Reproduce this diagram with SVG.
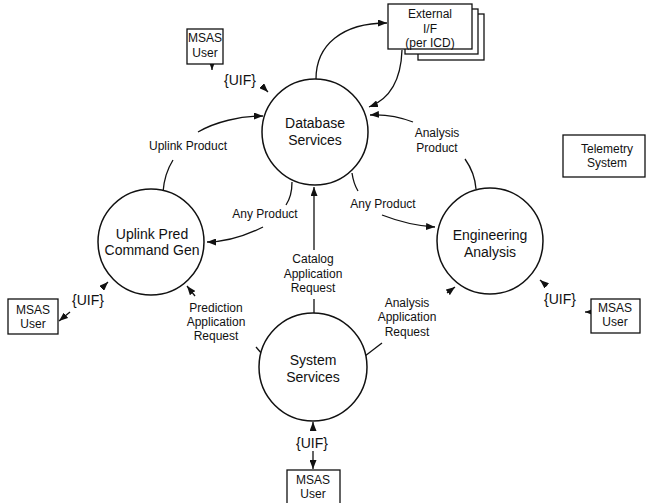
<svg xmlns="http://www.w3.org/2000/svg" width="647" height="503" viewBox="0 0 647 503">
  <style>
    .bg { fill: #ffffff; }
    .proc { fill: #ffffff; stroke: #111; stroke-width: 1.5; }
    .box { fill: #ffffff; stroke: #111; stroke-width: 1.3; }
    .flow { fill: none; stroke: #111; stroke-width: 1.3; }
    .arrow { marker-end: url(#head); }
    text { font-family: "Liberation Sans", Arial, sans-serif; fill: #111; text-anchor: middle; }
    .name { font-size: 14px; }
    .lbl { font-size: 12px; }
    .uif { font-size: 14px; }
  </style>
  <defs>
    <marker id="head" viewBox="0 0 9 7" refX="9" refY="3.5" markerWidth="9" markerHeight="7" markerUnits="userSpaceOnUse" orient="auto">
      <path d="M0,0 L9,3.5 L0,7 z" fill="#111"/>
    </marker>
  </defs>
  <rect class="bg" x="0" y="0" width="647" height="503"/>

  <!-- data flows -->
  <g id="connectors">
    <!-- Database <-> External I/F -->
    <path class="flow arrow" d="M316,79 C316,45 342,23 387,23"/>
    <path class="flow arrow" d="M402,50 C401,80 390,99 369,107"/>
    <!-- Analysis Product -->
    <path class="flow" d="M476,189 C475,176 470,166 465,159"/>
    <path class="flow arrow" d="M413,122 C400,117 386,114 370,115"/>
    <!-- Any Product (to Engineering Analysis) -->
    <path class="flow" d="M352,173 C353,180 355,186 358,191"/>
    <path class="flow arrow" d="M382,215 C400,222 418,226 435,227"/>
    <!-- Any Product (to Uplink Pred) -->
    <path class="flow" d="M292,182 C292,192 290,199 286,205"/>
    <path class="flow arrow" d="M263,227 C245,236 226,242 207,242"/>
    <!-- Uplink Product -->
    <path class="flow" d="M163,192 C164,178 168,168 173,160"/>
    <path class="flow arrow" d="M198,132 C215,122 240,116 263,116"/>
    <!-- Catalog Application Request -->
    <path class="flow" d="M314,313 L314,299"/>
    <path class="flow arrow" d="M314,250 L314,187"/>
    <!-- Prediction Application Request -->
    <path class="flow arrow" d="M195,296 L187,286"/>
    <path class="flow" d="M256,347 L262,354"/>
    <!-- Analysis Application Request -->
    <path class="flow arrow" d="M447,293 L455,287"/>
    <path class="flow" d="M382,343 L365,356"/>
    <!-- UIF: System Services -->
    <path class="flow arrow" d="M313,430 L313,422"/>
    <path class="flow arrow" d="M313,451 L313,469"/>
    <!-- UIF: Uplink Pred -->
    <path class="flow arrow" d="M102,288 L108,282"/>
    <path class="flow arrow" d="M70,312 L59,321"/>
    <!-- UIF: Engineering Analysis -->
    <path class="flow arrow" d="M547,286 L540,280"/>
    <path class="flow arrow" d="M591,312 L585,312"/>
    <!-- UIF: Database Services -->
    <path class="flow arrow" d="M212,63 L212,70"/>
    <path class="flow arrow" d="M262,86 L268,92"/>
  </g>

  <g id="database-services">
    <circle class="proc" cx="315" cy="132" r="53"/>
    <text class="name" x="315" y="128">Database</text>
    <text class="name" x="315" y="145">Services</text>
  </g>

  <g id="uplink-pred">
    <circle class="proc" cx="151" cy="242" r="53"/>
    <text class="name" x="152" y="239">Uplink Pred</text>
    <text class="name" x="152" y="255">Command Gen</text>
  </g>

  <g id="engineering-analysis">
    <circle class="proc" cx="490" cy="241" r="53"/>
    <text class="name" x="490" y="240">Engineering</text>
    <text class="name" x="490" y="257">Analysis</text>
  </g>

  <g id="system-services">
    <circle class="proc" cx="313" cy="367" r="54"/>
    <text class="name" x="313" y="365">System</text>
    <text class="name" x="313" y="382">Services</text>
  </g>

  <g id="external-if">
    <rect class="box" x="418" y="14" width="66" height="46"/>
    <rect class="box" x="405" y="9" width="73" height="45"/>
    <rect class="box" x="388" y="4" width="84" height="45"/>
    <text class="lbl" x="430" y="18">External</text>
    <text class="lbl" x="430" y="33">I/F</text>
    <text class="lbl" x="430" y="47">(per ICD)</text>
  </g>

  <g id="telemetry-system">
    <rect class="box" x="563" y="135" width="82" height="42"/>
    <text class="lbl" x="607" y="153">Telemetry</text>
    <text class="lbl" x="607" y="167">System</text>
  </g>

  <g id="msas-user-top">
    <rect class="box" x="187" y="29" width="36" height="35"/>
    <text class="lbl" x="205" y="42">MSAS</text>
    <text class="lbl" x="205" y="57">User</text>
  </g>

  <g id="msas-user-left">
    <rect class="box" x="8" y="299" width="50" height="35"/>
    <text class="lbl" x="33" y="314">MSAS</text>
    <text class="lbl" x="33" y="328">User</text>
  </g>

  <g id="msas-user-right">
    <rect class="box" x="591" y="299" width="49" height="34"/>
    <text class="lbl" x="615" y="312">MSAS</text>
    <text class="lbl" x="615" y="326">User</text>
  </g>

  <g id="msas-user-bottom">
    <rect class="box" x="287" y="470" width="53" height="40"/>
    <text class="lbl" x="313" y="484">MSAS</text>
    <text class="lbl" x="313" y="498">User</text>
  </g>

  <!-- flow labels -->
  <g id="labels">
    <text class="lbl" x="188" y="150">Uplink Product</text>
    <text class="lbl" x="265" y="218">Any Product</text>
    <text class="lbl" x="383" y="208">Any Product</text>
    <text class="lbl" x="437" y="137">Analysis</text>
    <text class="lbl" x="437" y="152">Product</text>
    <text class="lbl" x="313" y="263">Catalog</text>
    <text class="lbl" x="313" y="278">Application</text>
    <text class="lbl" x="313" y="292">Request</text>
    <text class="lbl" x="216" y="312">Prediction</text>
    <text class="lbl" x="216" y="326">Application</text>
    <text class="lbl" x="216" y="340">Request</text>
    <text class="lbl" x="407" y="307">Analysis</text>
    <text class="lbl" x="407" y="321">Application</text>
    <text class="lbl" x="407" y="336">Request</text>
    <text class="uif" x="240" y="85">{UIF}</text>
    <text class="uif" x="88" y="305">{UIF}</text>
    <text class="uif" x="560" y="304">{UIF}</text>
    <text class="uif" x="312" y="448">{UIF}</text>
  </g>
</svg>
